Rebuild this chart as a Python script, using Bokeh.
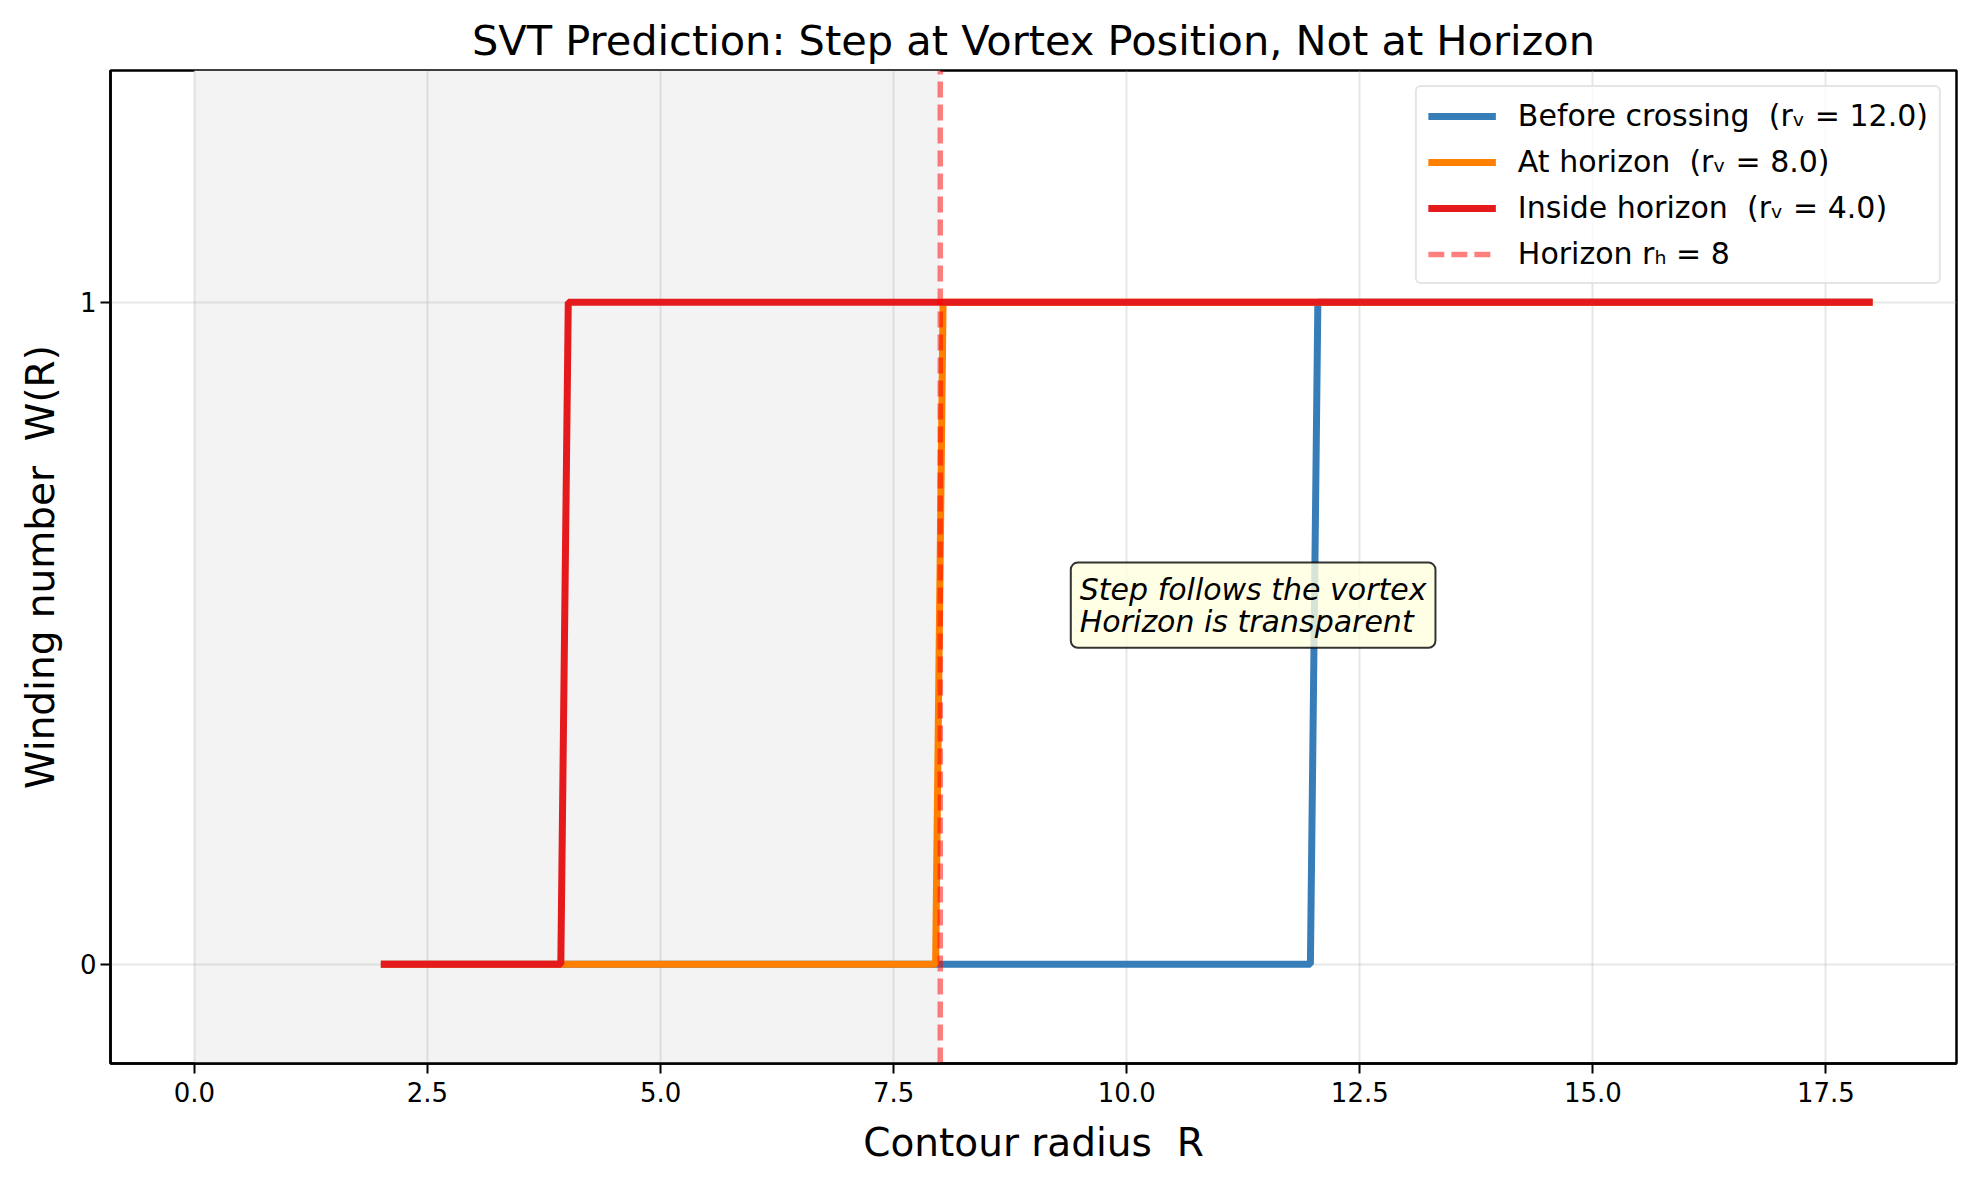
from bokeh.plotting import figure
from bokeh.models import Range1d, FixedTicker, BoxAnnotation, Label, Legend, LegendItem
from bokeh.embed import file_html
from bokeh.resources import INLINE

# ---- data ----
R_before = [2.0, 11.97, 12.05, 18.0]
W_before = [0, 0, 1, 1]
R_at = [2.0, 7.95, 8.03, 18.0]
W_at = [0, 0, 1, 1]
R_inside = [2.0, 3.93, 4.01, 18.0]
W_inside = [0, 0, 1, 1]
horizon_r = 8.0
interior_start = 0.0

series_labels = ["Before crossing \u00a0(r\u1d65 = 12.0)",
                 "At horizon \u00a0(r\u1d65 = 8.0)",
                 "Inside horizon \u00a0(r\u1d65 = 4.0)",
                 "Horizon r\u2095 = 8"]
series_colors = ["#377eb8", "#ff7f00", "#e41a1c"]

x_lim = (-0.9, 18.9)
y_lim = (-0.15, 1.35)
x_ticks = [0.0, 2.5, 5.0, 7.5, 10.0, 12.5, 15.0, 17.5]
x_tick_labels = ["0.0", "2.5", "5.0", "7.5", "10.0", "12.5", "15.0", "17.5"]
y_ticks = [0, 1]
y_tick_labels = ["0", "1"]

annotation_text = "Step follows the vortex\nHorizon is transparent"
annotation_x = 9.4
annotation_y = 0.478

FONT = "DejaVu Sans"

p = figure(width=1975, height=1181, output_backend="svg", toolbar_location=None,
           x_range=Range1d(*x_lim), y_range=Range1d(*y_lim),
           min_border_left=110, min_border_right=19, min_border_top=70, min_border_bottom=118)

p.title.text = "SVT Prediction: Step at Vortex Position, Not at Horizon"
p.title.text_font = FONT
p.title.text_font_size = "41.5px"
p.title.text_font_style = "normal"
p.title.text_color = "black"
p.title.align = "center"
p.title.standoff = 12

p.background_fill_color = "white"
p.border_fill_color = "white"
p.outline_line_color = "black"
p.outline_line_width = 2.5
p.outline_line_alpha = 1.0

# shaded interior region
p.add_layout(BoxAnnotation(left=interior_start, right=horizon_r, fill_color="#f3f3f3",
                           fill_alpha=1.0, line_alpha=0, level="image"))

# axes
for ax in (p.xaxis[0], p.yaxis[0]):
    ax.axis_line_width = 2.5
    ax.axis_line_color = "black"
    ax.major_tick_line_width = 2
    ax.major_tick_out = 10
    ax.major_tick_in = 0
    ax.minor_tick_line_color = None
    ax.major_label_text_font = FONT
    ax.major_label_text_font_size = "26px"
    ax.major_label_text_color = "black"
    ax.axis_label_text_font = FONT
    ax.axis_label_text_font_size = "39px"
    ax.axis_label_text_font_style = "normal"
    ax.axis_label_text_color = "black"

p.xaxis.ticker = FixedTicker(ticks=x_ticks)
p.xaxis.major_label_overrides = dict(zip(x_ticks, x_tick_labels))
p.yaxis.ticker = FixedTicker(ticks=y_ticks)
p.yaxis.major_label_overrides = dict(zip(y_ticks, y_tick_labels))
p.xaxis.axis_label = "Contour radius \u00a0R"
p.yaxis.axis_label = "Winding number \u00a0W(R)"
p.xaxis.major_label_standoff = 8
p.yaxis.major_label_standoff = 4
p.xaxis.axis_label_standoff = 15
p.yaxis.axis_label_standoff = 14

p.xgrid.ticker = FixedTicker(ticks=x_ticks)
p.ygrid.ticker = FixedTicker(ticks=y_ticks)
for g in (p.xgrid[0], p.ygrid[0]):
    g.grid_line_color = "#b0b0b0"
    g.grid_line_alpha = 0.3
    g.grid_line_width = 2

# step curves
r1 = p.line(R_before, W_before, line_color=series_colors[0], line_width=7)
r2 = p.line(R_at, W_at, line_color=series_colors[1], line_width=7)
r3 = p.line(R_inside, W_inside, line_color=series_colors[2], line_width=7)
# horizon line spanning the full axis height
r4 = p.line([horizon_r, horizon_r], [y_lim[0], y_lim[1]], line_color="red", line_alpha=0.5,
            line_width=5.5, line_dash="16 7")

legend = Legend(items=[LegendItem(label=series_labels[0], renderers=[r1]),
                       LegendItem(label=series_labels[1], renderers=[r2]),
                       LegendItem(label=series_labels[2], renderers=[r3]),
                       LegendItem(label=series_labels[3], renderers=[r4])],
                location="top_right")
legend.label_text_font = FONT
legend.label_text_font_size = "30px"
legend.label_text_color = "black"
legend.glyph_width = 68
legend.glyph_height = 34
legend.label_height = 34
legend.label_standoff = 22
legend.spacing = 11
legend.padding = 11
legend.margin = 15
legend.border_line_color = "#cccccc"
legend.border_line_width = 2
legend.border_radius = 6
legend.background_fill_color = "white"
legend.background_fill_alpha = 0.8
p.add_layout(legend)

p.add_layout(Label(x=annotation_x, y=annotation_y, text=annotation_text,
                   text_font=FONT, text_font_size="30px", text_font_style="italic",
                   text_color="black", text_align="left", text_baseline="bottom",
                   text_line_height=0.92,
                   background_fill_color="#ffffe0", background_fill_alpha=0.8,
                   border_line_color="black", border_line_alpha=0.8, border_line_width=2,
                   padding=9, border_radius=7))

open("out.html", "w").write(file_html(p, INLINE))
